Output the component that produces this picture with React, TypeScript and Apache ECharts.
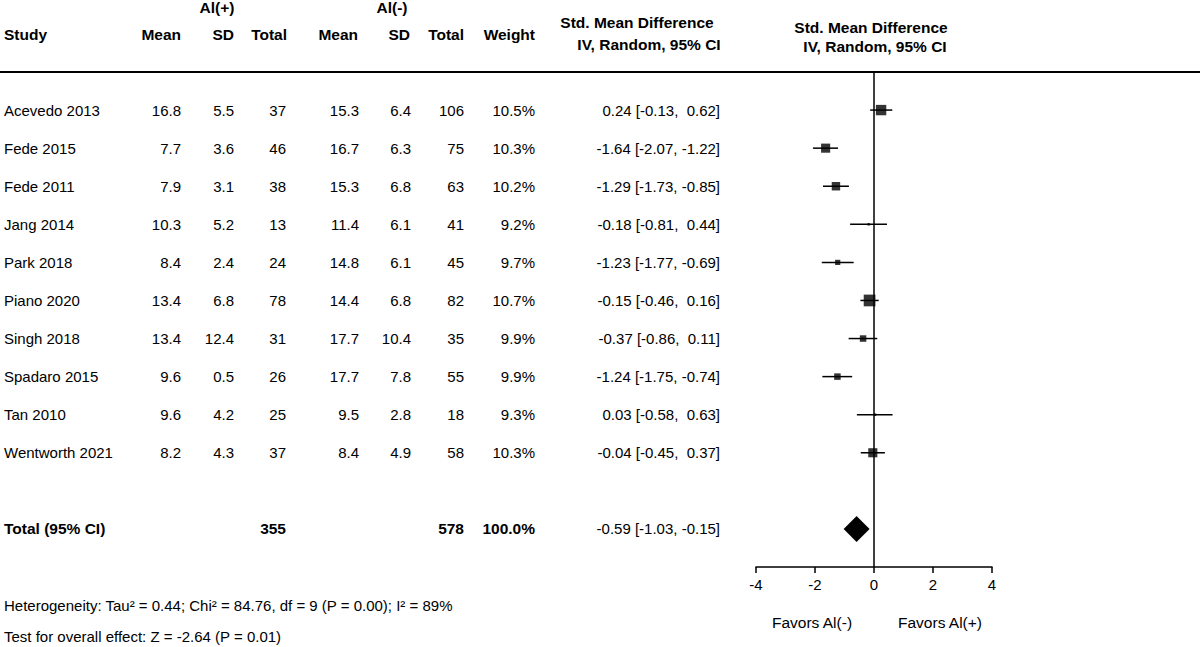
import React, { useEffect, useRef } from "react";
import * as echarts from "echarts";

const studies = [
  "Acevedo 2013", "Fede 2015", "Fede 2011", "Jang 2014", "Park 2018",
  "Piano 2020", "Singh 2018", "Spadaro 2015", "Tan 2010", "Wentworth 2021",
];
const meanPos = [16.8, 7.7, 7.9, 10.3, 8.4, 13.4, 13.4, 9.6, 9.6, 8.2];
const sdPos = [5.5, 3.6, 3.1, 5.2, 2.4, 6.8, 12.4, 0.5, 4.2, 4.3];
const totalPos = [37, 46, 38, 13, 24, 78, 31, 26, 25, 37];
const meanNeg = [15.3, 16.7, 15.3, 11.4, 14.8, 14.4, 17.7, 17.7, 9.5, 8.4];
const sdNeg = [6.4, 6.3, 6.8, 6.1, 6.1, 6.8, 10.4, 7.8, 2.8, 4.9];
const totalNeg = [106, 75, 63, 41, 45, 82, 35, 55, 18, 58];
const weights = [10.5, 10.3, 10.2, 9.2, 9.7, 10.7, 9.9, 9.9, 9.3, 10.3];
const smd = [0.24, -1.64, -1.29, -0.18, -1.23, -0.15, -0.37, -1.24, 0.03, -0.04];
const lower = [-0.13, -2.07, -1.73, -0.81, -1.77, -0.46, -0.86, -1.75, -0.58, -0.45];
const upper = [0.62, -1.22, -0.85, 0.44, -0.69, 0.16, 0.11, -0.74, 0.63, 0.37];

const pooledTotalPos = 355;
const pooledTotalNeg = 578;
const pooledWeight = 100.0;
const pooled = { est: -0.59, lo: -1.03, hi: -0.15 };
const totalRow = 11;

const xTicks = [-4, -2, 0, 2, 4];
const heterogeneityText = "Heterogeneity: Tau² = 0.44; Chi² = 84.76, df = 9 (P = 0.00); I² = 89%";
const overallText = "Test for overall effect: Z = -2.64 (P = 0.01)";

const FONT = '"Liberation Sans", Arial, Helvetica, sans-serif';
const FS = 15;
const HFS = 15.5;

function ciText(e: number, l: number, h: number) {
  const f = (v: number) => (v >= 0 ? " " : "") + v.toFixed(2);
  return `${e.toFixed(2)} [${l.toFixed(2)}, ${f(h)}]`;
}

const GRID_TOP = 72;
const GRID_BOTTOM_Y = 567;
const Y_MIN = -1;
const Y_MAX = 12;
const rowY = (r: number) =>
  GRID_TOP + ((r - Y_MIN) * (GRID_BOTTOM_Y - GRID_TOP)) / (Y_MAX - Y_MIN);

function txt(text: string, x: number, y: number, align: string, bold = false, size = FS) {
  return {
    type: "text",
    x,
    y,
    silent: true,
    style: {
      text,
      fill: "#000",
      font: `${bold ? "bold " : ""}${size}px ${FONT}`,
      textAlign: align,
      textVerticalAlign: "middle",
    },
  };
}

export default function App() {
  const ref = useRef<HTMLDivElement>(null);

  useEffect(() => {
    if (!ref.current) return;
    const chart = echarts.init(ref.current, null, { renderer: "svg" });

    const graphics: any[] = [];
    // headers
    graphics.push(txt("Al(+)", 217, 7, "center", true, HFS));
    graphics.push(txt("Al(-)", 392, 7, "center", true, HFS));
    graphics.push(txt("Study", 4, 34, "left", true, HFS));
    graphics.push(txt("Mean", 181, 34, "right", true, HFS));
    graphics.push(txt("SD", 234, 34, "right", true, HFS));
    graphics.push(txt("Total", 287, 34, "right", true, HFS));
    graphics.push(txt("Mean", 358, 34, "right", true, HFS));
    graphics.push(txt("SD", 410, 34, "right", true, HFS));
    graphics.push(txt("Total", 464, 34, "right", true, HFS));
    graphics.push(txt("Weight", 535, 34, "right", true, HFS));
    graphics.push(txt("Std. Mean Difference", 637, 22, "center", true, HFS));
    graphics.push(txt("IV, Random, 95% CI", 649, 44, "center", true, HFS));
    graphics.push(txt("Std. Mean Difference", 871, 27, "center", true, HFS));
    graphics.push(txt("IV, Random, 95% CI", 875, 46, "center", true, HFS));
    // rule
    graphics.push({
      type: "line",
      silent: true,
      shape: { x1: 0, y1: 72, x2: 1200, y2: 72 },
      style: { stroke: "#000", lineWidth: 2 },
    });
    // rows
    studies.forEach((s, i) => {
      const y = rowY(i);
      graphics.push(txt(s, 4, y, "left"));
      graphics.push(txt(meanPos[i].toFixed(1), 181, y, "right"));
      graphics.push(txt(sdPos[i].toFixed(1), 234, y, "right"));
      graphics.push(txt(String(totalPos[i]), 286, y, "right"));
      graphics.push(txt(meanNeg[i].toFixed(1), 359, y, "right"));
      graphics.push(txt(sdNeg[i].toFixed(1), 411, y, "right"));
      graphics.push(txt(String(totalNeg[i]), 464, y, "right"));
      graphics.push(txt(weights[i].toFixed(1) + "%", 535, y, "right"));
      graphics.push(txt(ciText(smd[i], lower[i], upper[i]), 720, y, "right"));
    });
    const ty = rowY(totalRow);
    graphics.push(txt("Total (95% CI)", 4, ty, "left", true, HFS));
    graphics.push(txt(String(pooledTotalPos), 286, ty, "right", true, HFS));
    graphics.push(txt(String(pooledTotalNeg), 464, ty, "right", true, HFS));
    graphics.push(txt(pooledWeight.toFixed(1) + "%", 535, ty, "right", true, HFS));
    graphics.push(txt(ciText(pooled.est, pooled.lo, pooled.hi), 720, ty, "right"));
    // footer
    graphics.push(txt(heterogeneityText, 4, 605, "left", false, 15));
    graphics.push(txt(overallText, 4, 636, "left", false, 15));
    graphics.push(txt("Favors Al(-)", 812, 622, "center", false, 15.5));
    graphics.push(txt("Favors Al(+)", 940, 622, "center", false, 15.5));

    const pointData = smd.map((v, i) => ({
      value: [v, i],
      symbolSize: Math.max(2.5, (weights[i] - 8.9) * 6.5),
    }));
    const ciData = smd.map((_, i) => [lower[i], upper[i], i]);

    chart.setOption({
      animation: false,
      grid: { left: 756, right: 208, top: GRID_TOP, bottom: 647 - GRID_BOTTOM_Y },
      xAxis: {
        type: "value",
        min: xTicks[0],
        max: xTicks[xTicks.length - 1],
        interval: 2,
        splitLine: { show: false },
        axisLine: { show: true, onZero: false, lineStyle: { color: "#000", width: 1.5 } },
        axisTick: { show: true, length: 6, lineStyle: { color: "#000", width: 1.5 } },
        axisLabel: { color: "#000", fontSize: 15, fontFamily: FONT, margin: 10 },
      },
      yAxis: {
        type: "value",
        min: Y_MIN,
        max: Y_MAX,
        inverse: true,
        show: false,
        splitLine: { show: false },
      },
      graphic: graphics,
      series: [
        {
          type: "custom",
          z: 3,
          renderItem: (params: any, api: any) => {
            const a = api.coord([api.value(0), api.value(2)]);
            const b = api.coord([api.value(1), api.value(2)]);
            return {
              type: "line",
              shape: { x1: a[0], y1: a[1], x2: b[0], y2: b[1] },
              style: { stroke: "#000", lineWidth: 1.5 },
            };
          },
          encode: { x: [0, 1], y: 2 },
          data: ciData,
        },
        {
          type: "scatter",
          z: 4,
          symbol: "rect",
          itemStyle: { color: "#000" },
          data: pointData,
          markLine: {
            silent: true,
            symbol: ["none", "none"],
            label: { show: false },
            lineStyle: { color: "#000", width: 1.5, type: "solid" },
            data: [{ xAxis: 0 }],
          },
        },
        {
          type: "custom",
          z: 4,
          renderItem: (params: any, api: any) => {
            const lo = api.coord([api.value(0), api.value(3)]);
            const est = api.coord([api.value(1), api.value(3)]);
            const hi = api.coord([api.value(2), api.value(3)]);
            const h = 13;
            return {
              type: "polygon",
              shape: {
                points: [
                  [lo[0], lo[1]],
                  [est[0], est[1] - h],
                  [hi[0], hi[1]],
                  [est[0], est[1] + h],
                ],
              },
              style: { fill: "#000" },
            };
          },
          encode: { x: [0, 1, 2], y: 3 },
          data: [[pooled.lo, pooled.est, pooled.hi, totalRow]],
        },
      ],
    });

    return () => chart.dispose();
  }, []);

  return (
    <div
      ref={ref}
      style={{ position: "fixed", left: 0, top: 0, width: 1200, height: 647, background: "#fff" }}
    />
  );
}
